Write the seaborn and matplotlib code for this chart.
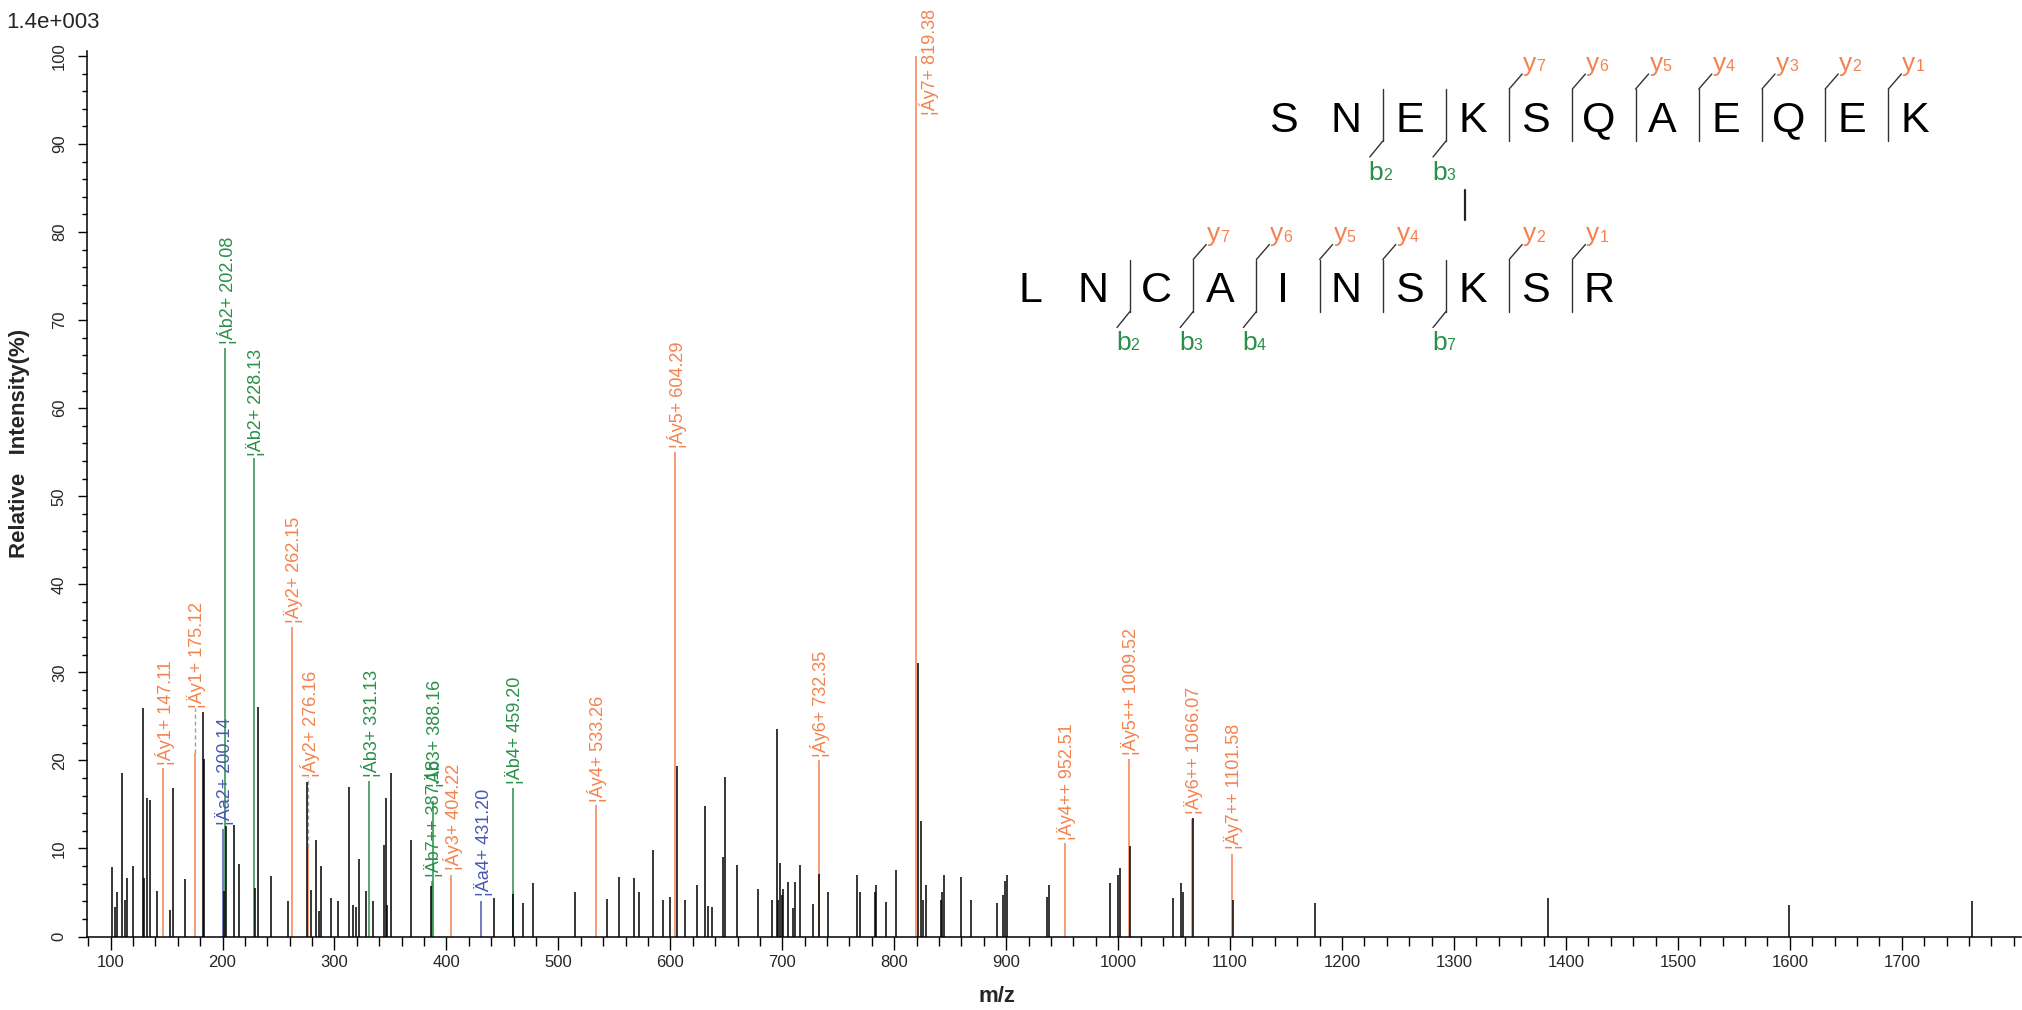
import numpy as np
import pandas as pd
import matplotlib
matplotlib.use("Agg")
import matplotlib.pyplot as plt
import seaborn as sns

# plain (unassigned) peaks: m/z and relative intensity (%)
peak_mz = [100.9, 103.9, 105.4, 109.9, 112.9, 114.4, 120.3, 129.2, 130.1, 132.2,
           135.2, 141.1, 153.1, 156.1, 166.5, 182.8, 183.7, 200.9, 203.1, 210.5,
           215.0, 229.3, 231.4, 243.3, 258.2, 275.4, 279.0, 283.5, 286.5, 288.0,
           296.9, 302.9, 313.3, 316.3, 319.2, 322.2, 328.2, 334.1, 344.5, 346.0,
           346.9, 350.5, 368.4, 386.2, 442.8, 459.8, 468.7, 477.7, 514.9, 543.5,
           553.9, 567.3, 571.7, 584.8, 593.8, 599.7, 605.7, 613.1, 623.5, 631.0,
           634.0, 637.0, 647.4, 648.8, 659.3, 678.6, 690.5, 695.0, 695.9, 697.9,
           699.4, 700.9, 704.8, 709.9, 711.4, 715.8, 727.7, 733.1, 741.1, 766.4,
           769.4, 782.8, 784.0, 792.6, 801.6, 820.9, 823.9, 825.4, 828.4, 841.8,
           843.0, 844.8, 859.7, 868.6, 891.6, 897.4, 899.1, 900.8, 936.4, 938.1,
           992.8, 1000.0, 1001.7, 1011.0, 1049.3, 1056.5, 1058.2, 1066.5, 1102.6, 1175.9,
           1384.0, 1599.4, 1762.5]
peak_int = [7.9, 3.3, 5.0, 18.6, 4.2, 6.7, 8.0, 25.9, 6.6, 15.7,
            15.5, 5.2, 3.0, 16.9, 6.5, 25.5, 20.2, 5.2, 12.6, 12.7,
            8.2, 5.5, 26.1, 6.9, 4.0, 17.6, 5.3, 11.0, 2.9, 8.0,
            4.4, 4.0, 17.0, 3.6, 3.3, 8.8, 5.2, 4.0, 10.4, 15.7,
            3.6, 18.6, 11.0, 5.7, 4.4, 4.8, 3.8, 6.1, 5.0, 4.3,
            6.8, 6.6, 5.0, 9.8, 4.1, 4.5, 19.4, 4.1, 5.8, 14.8,
            3.5, 3.4, 9.0, 18.1, 8.1, 5.4, 4.1, 23.6, 4.1, 8.4,
            4.7, 5.4, 6.2, 3.2, 6.2, 8.1, 3.7, 7.1, 5.0, 7.0,
            5.0, 5.0, 5.8, 3.9, 7.5, 31.1, 13.1, 4.1, 5.8, 4.1,
            5.0, 7.0, 6.8, 4.1, 3.8, 4.7, 6.3, 7.0, 4.5, 5.9,
            6.1, 7.0, 7.8, 10.3, 4.4, 6.1, 5.1, 13.5, 4.2, 3.8,
            4.4, 3.6, 4.0]

# assigned fragment ions
ion_mz = [147.11, 175.12, 200.14, 202.08, 228.13, 262.15, 276.16, 331.13, 387.18, 388.16,
          404.22, 431.20, 459.20, 533.26, 604.29, 732.35, 819.38, 952.51, 1009.52, 1066.07,
          1101.58]
ion_int = [19.1, 20.8, 12.2, 66.8, 54.3, 35.2, 10.2, 17.7, 6.3, 15.4,
           7.0, 4.0, 16.9, 14.9, 55.0, 20.0, 100.0, 10.6, 20.2, 13.3,
           9.4]
ion_type = ["y", "y", "a", "b", "b", "y", "y", "b", "b", "b",
            "y", "a", "b", "y", "y", "y", "y", "y", "y", "y",
            "y"]
ion_name = ["\u00a6\u00c1y1+", "\u00a6\u00c4y1+", "\u00a6\u00c4a2+", "\u00a6\u00c1b2+", "\u00a6\u00c4b2+",
            "\u00a6\u00c4y2+", "\u00a6\u00c1y2+", "\u00a6\u00c1b3+", "\u00a6\u00c4b7++", "\u00a6\u00c4b3+",
            "\u00a6\u00c1y3+", "\u00a6\u00c4a4+", "\u00a6\u00c4b4+", "\u00a6\u00c1y4+", "\u00a6\u00c1y5+",
            "\u00a6\u00c1y6+", "\u00a6\u00c1y7+", "\u00a6\u00c4y4++", "\u00a6\u00c4y5++", "\u00a6\u00c4y6++",
            "\u00a6\u00c4y7++"]
label_h = [19.5, 26.0, 12.7, 67.3, 54.6, 35.6, 18.1, 18.1, 6.8, 17.0,
           7.6, 4.6, 17.3, 15.3, 55.5, 20.4, 93.3, 11.0, 20.6, 13.9,
           9.9]

alpha_seq = list("SNEKSQAEQEK")
beta_seq = list("LNCAINSKSR")
alpha_b = [2, 3]
alpha_y = [7, 6, 5, 4, 3, 2, 1]
beta_b = [2, 3, 4, 7]
beta_y = [7, 6, 5, 4, 2, 1]

ORANGE = "#F4824E"
GREEN = "#2A9048"
BLUE = "#4858B4"
type_color = {"y": ORANGE, "b": GREEN, "a": BLUE}

sns.set_theme(style="ticks")
plt.rcParams["font.family"] = ["Liberation Sans", "DejaVu Sans"]

W, H = 2022, 1010
fig = plt.figure(figsize=(W / 100, H / 100), dpi=100)

# axes placed in pixels: x 100 -> 110.6px, 1.1195 px per m/z unit; y 0 -> 936.5px, 8.805 px per %
x_left, x_right = 87.0, 2021.0
xmin = 100 - (110.6 - x_left) / 1.1195
xmax = 100 + (x_right - 110.6) / 1.1195
ymax = 100.6
ax = fig.add_axes([x_left / W, (H - 936.5) / H, (x_right - x_left) / W, ymax * 8.805 / H])

ions = pd.DataFrame({"mz": ion_mz, "inten": ion_int, "type": ion_type,
                     "name": ion_name, "lab": label_h})
ions["color"] = ions["type"].map(type_color)

ax.vlines(ions["mz"], 0, ions["inten"], colors=ions["color"], lw=1.1, zorder=2)
ax.vlines(peak_mz, 0, peak_int, colors="black", lw=1.1, zorder=3)

for _, r in ions.iterrows():
    dx = 11.5 if r["mz"] > 800 and r["mz"] < 830 else 1.6
    if r["lab"] - r["inten"] > 2 and r["mz"] < 300:
        ax.vlines(r["mz"], r["inten"], r["lab"], colors="#a0a0a0", lw=1.0,
                  linestyles=(0, (3, 2)), zorder=1)
    ax.text(r["mz"] + dx, r["lab"], f"{r['name']} {r['mz']:.2f}", rotation=90,
            ha="center", va="bottom", color=r["color"], fontsize=13, clip_on=False)

ax.set_xlim(xmin, xmax)
ax.set_ylim(0, ymax)
ax.set_xticks(np.arange(100, 1800, 100))
ax.set_xticks(np.arange(80, 1807, 20), minor=True)
ax.set_yticks(np.arange(0, 101, 10))
ax.set_yticks(np.arange(0, 101, 2), minor=True)
ax.tick_params(axis="x", which="major", length=9.5, width=1.0, labelsize=12, pad=4, color="black")
ax.tick_params(axis="x", which="minor", length=6.5, width=1.0, color="black")
ax.tick_params(axis="y", which="major", length=6.5, width=1.0, labelsize=12, pad=8, color="black")
ax.tick_params(axis="y", which="minor", length=3.5, width=1.0, color="black")
for lab in ax.get_yticklabels():
    lab.set_rotation(90)
    lab.set_va("center")
    lab.set_ha("right")
sns.despine(ax=ax)
for s in ["left", "bottom"]:
    ax.spines[s].set_linewidth(1.1)
    ax.spines[s].set_color("black")
ax.set_facecolor("white")

ax.set_xlabel("m/z", fontsize=16, fontweight="bold")
ax.set_ylabel("Relative   Intensity(%)", fontsize=16, fontweight="bold")
ax.xaxis.set_label_coords((997 - x_left) / (x_right - x_left), ((H - 997) / H - (H - 936.5) / H) / (ymax * 8.805 / H))
ax.xaxis.label.set_va("center")
ax.yaxis.set_label_coords((20 - x_left) / (x_right - x_left), ((H - 443) / H - (H - 936.5) / H) / (ymax * 8.805 / H))
ax.yaxis.label.set_va("center")

fig.text(6 / W, 1 - 12 / H, "1.4e+003", ha="left", va="top", fontsize=16)

# peptide diagram in pixel coordinates
ov = fig.add_axes([0, 0, 1, 1], facecolor="none")
ov.set_xlim(0, W)
ov.set_ylim(H, 0)
ov.axis("off")

sp = 63.2
ax0 = 1283.0
bx0 = ax0 + (3 - 7) * sp
k = dict(color="#333333", lw=1.0)


def draw_chain(seq, x0, yc, b_ions, y_ions):
    n = len(seq)
    for i, aa in enumerate(seq):
        ov.text(x0 + i * sp, yc + 15.5, aa, fontsize=31, ha="center", va="baseline", color="black")
    breaks = set(b_ions) | {n - m for m in y_ions}
    for cut in breaks:
        bx = x0 + (cut - 0.5) * sp + 5
        ov.plot([bx, bx], [yc - 27, yc + 25], **k)
        if cut in b_ions:
            ov.plot([bx, bx - 13], [yc + 25, yc + 41], **k)
            ov.text(bx - 14, yc + 64, "b", fontsize=19, color=GREEN, ha="left", va="baseline")
            ov.text(bx - 14 + 14.5, yc + 64, str(cut), fontsize=11.5, color=GREEN, ha="left", va="baseline")
        if (n - cut) in y_ions:
            ov.plot([bx, bx + 13], [yc - 27, yc - 42], **k)
            ov.text(bx + 14, yc - 45, "y", fontsize=19, color=ORANGE, ha="left", va="baseline")
            ov.text(bx + 14 + 13.2, yc - 45, str(n - cut), fontsize=11.5, color=ORANGE, ha="left", va="baseline")


draw_chain(alpha_seq, ax0, 116, alpha_b, alpha_y)
draw_chain(beta_seq, bx0, 286.5, beta_b, beta_y)
kx = ax0 + 3 * sp - 8
ov.plot([kx, kx], [190, 220], color="#222222", lw=1.6)

fig.savefig("out.png", dpi=100, facecolor="white")
